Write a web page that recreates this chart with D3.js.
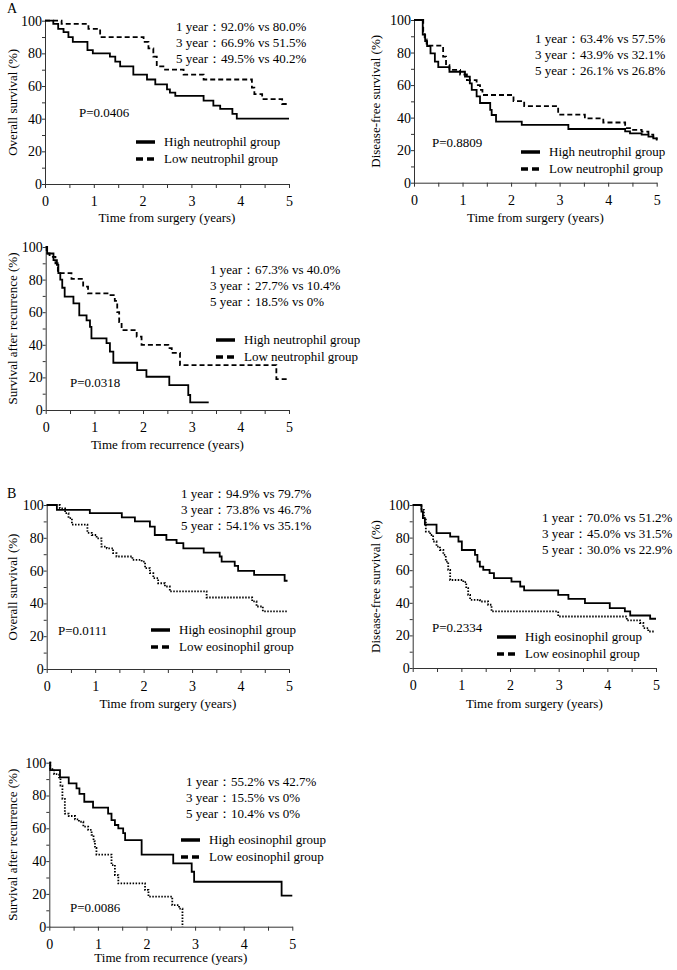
<!DOCTYPE html>
<html>
<head>
<meta charset="utf-8">
<script src="https://cdn.jsdelivr.net/npm/d3@7"></script>
<style>
body { margin: 0; background: #fff; }
text { font-family: "Liberation Serif", "Times New Roman", serif; }
</style>
</head>
<body>
<svg id="fig" width="677" height="970"></svg>
<script>
// survival curves, [years, percent]
var osNeutHigh = [[0,100],[0.17,98],[0.27,95],[0.38,93],[0.48,90],[0.57,87],[0.87,82],[0.98,80],[1.33,78],[1.44,75],[1.54,72],[1.81,67],[2.09,64],[2.26,61],[2.50,58],[2.56,56],[2.67,54],[3.25,51],[3.45,48],[3.59,46],[3.84,43],[3.93,40],[5.0,40]];
var osNeutLow = [[0,100],[0.34,98],[0.89,95],[1.13,90],[2.02,87],[2.12,83],[2.22,78],[2.29,72],[2.46,70],[2.84,67],[3.25,64],[4.24,59],[4.29,55],[4.45,52],[4.86,49],[5.0,49]];

var dfsNeutHigh = [[0,100],[0.18,91],[0.23,87],[0.27,84],[0.34,79.5],[0.43,74.4],[0.50,71],[0.73,68.2],[1.05,65.2],[1.15,61],[1.19,57],[1.29,53],[1.36,49],[1.57,44.7],[1.60,41.6],[1.69,37.5],[2.22,35.5],[3.18,33],[4.35,31.5],[4.45,30.3],[4.69,29.5],[4.83,28.3],[4.93,27.3],[5.0,26]];
var dfsNeutLow = [[0,100],[0.19,93],[0.22,88],[0.26,84.2],[0.60,77.5],[0.66,72.3],[0.73,69.3],[0.95,66.5],[1.09,63],[1.29,60],[1.36,57],[1.41,53.9],[2.05,50.2],[2.27,47.1],[2.97,41.8],[3.52,39.5],[3.90,37],[4.35,33.6],[4.45,32.5],[4.69,31.4],[4.83,29.5],[4.93,27.3],[5.0,26.5]];

var rasNeutHigh = [[0,100],[0.03,96],[0.16,92],[0.23,89],[0.26,84],[0.30,80],[0.34,75],[0.39,69.5],[0.57,65.4],[0.69,58],[0.84,55],[0.91,51],[0.94,44],[1.25,41],[1.32,35.8],[1.39,29],[1.88,24.5],[2.07,20.4],[2.54,15.3],[2.93,9.2],[2.97,4.7],[3.35,4.7]];
var rasNeutLow = [[0,100],[0.02,96],[0.08,94],[0.20,90],[0.25,84],[0.53,80.4],[0.77,75.7],[0.87,71.6],[1.29,70.5],[1.42,67],[1.47,60],[1.51,54],[1.56,49],[1.87,45],[1.97,40],[2.52,38],[2.59,35],[2.76,27.5],[4.74,19],[5.0,19]];

var osEosHigh = [[0,100],[0.21,97],[0.89,95],[1.55,92.5],[1.82,90],[2.13,86.8],[2.23,81.7],[2.47,78.7],[2.68,76.7],[2.82,73.6],[3.24,71],[3.57,68.6],[3.61,65.5],[3.88,62.9],[3.95,59.8],[4.28,57.4],[4.91,53.8],[4.97,53.8]];
var osEosLow = [[0,100],[0.27,98],[0.38,95],[0.45,92],[0.52,88],[0.84,83],[0.93,81.7],[1.03,79.7],[1.13,74.6],[1.24,73.6],[1.37,70.6],[1.44,68.6],[1.77,66.5],[1.96,65.5],[2.03,61.5],[2.13,58.4],[2.20,55.4],[2.30,52.3],[2.44,50.3],[2.54,47.3],[3.30,43.6],[4.24,41.2],[4.33,38.1],[4.46,35.1],[4.97,35.1]];

var dfsEosHigh = [[0,100],[0.18,96],[0.21,92],[0.25,88],[0.49,82.7],[0.77,80.6],[0.94,77.6],[1.01,72.4],[1.28,69.4],[1.33,65.3],[1.38,62.2],[1.45,60.2],[1.58,58.2],[1.67,55.1],[2.03,53],[2.21,50],[2.29,47.6],[2.99,44.9],[3.2,42.4],[3.54,39.8],[4.05,36.7],[4.36,34.7],[4.47,32.2],[4.88,30.2],[5.0,30.2]];
var dfsEosLow = [[0,100],[0.18,97],[0.23,92],[0.27,83.7],[0.36,81.6],[0.42,77.6],[0.49,74.5],[0.56,72.4],[0.63,69.4],[0.68,65.3],[0.73,60.2],[0.77,54],[1.04,52.7],[1.10,49],[1.14,44.9],[1.18,41.8],[1.38,40.8],[1.55,38.8],[1.62,34.7],[2.99,31.6],[4.40,29.2],[4.67,27.6],[4.74,24.5],[4.84,22.4],[4.97,22.4]];

var rasEosHigh = [[0,100],[0.02,95.5],[0.22,91],[0.40,87.4],[0.56,84.3],[0.62,81],[0.72,76.2],[0.90,72.6],[1.21,69],[1.28,65],[1.35,62],[1.42,60],[1.52,57],[1.56,52.8],[1.90,44],[2.55,38.6],[2.93,33.5],[2.98,27.4],[4.78,18.9],[5.0,18.9]];
var rasEosLow = [[0,100],[0.02,96],[0.10,93],[0.20,91],[0.23,86],[0.27,78],[0.32,69],[0.40,67.5],[0.53,65.5],[0.61,64],[0.70,61],[0.80,59],[0.87,56],[0.91,52],[0.94,48],[0.97,44],[1.28,37.6],[1.35,31.5],[1.42,26.4],[1.97,22.4],[2.04,18.3],[2.53,13.2],[2.67,11],[2.74,0]];

// texts
var yTitles = ["Overall survival (%)", "Disease-free survival (%)", "Survival after recurrence (%)"];
var xTitles = ["Time from surgery (years)", "Time from surgery (years)", "Time from recurrence (years)"];
var neutLegend = ["High neutrophil group", "Low neutrophil group"];
var eosLegend = ["High eosinophil group", "Low eosinophil group"];
var statsA1 = ["1 year\uff1a92.0% vs 80.0%", "3 year\uff1a66.9% vs 51.5%", "5 year\uff1a49.5% vs 40.2%"];
var statsA2 = ["1 year\uff1a63.4% vs 57.5%", "3 year\uff1a43.9% vs 32.1%", "5 year\uff1a26.1% vs 26.8%"];
var statsA3 = ["1 year\uff1a67.3% vs 40.0%", "3 year\uff1a27.7% vs 10.4%", "5 year\uff1a18.5% vs 0%"];
var statsB1 = ["1 year\uff1a94.9% vs 79.7%", "3 year\uff1a73.8% vs 46.7%", "5 year\uff1a54.1% vs 35.1%"];
var statsB2 = ["1 year\uff1a70.0% vs 51.2%", "3 year\uff1a45.0% vs 31.5%", "5 year\uff1a30.0% vs 22.9%"];
var statsB3 = ["1 year\uff1a55.2% vs 42.7%", "3 year\uff1a15.5% vs 0%", "5 year\uff1a10.4% vs 0%"];
var pValues = ["P=0.0406", "P=0.8809", "P=0.0318", "P=0.0111", "P=0.2334", "P=0.0086"];

var svg = d3.select("#fig");
var fs = 13;

var line = function(x, y) {
  return d3.line().x(function(d){ return x(d[0]); }).y(function(d){ return y(d[1]); }).curve(d3.curveStepAfter);
};

function drawPanel(p) {
  var g = svg.append("g");
  var x = d3.scaleLinear().domain([0,5]).range([p.x0, p.x1]);
  var y = d3.scaleLinear().domain([0,100]).range([p.y0, p.y1]);

  var xa = g.append("g").attr("transform","translate(0,"+p.y0+")")
    .call(d3.axisBottom(x).tickValues(d3.range(0,5.01,0.5)).tickSize(4).tickSizeOuter(0).tickPadding(8)
      .tickFormat(function(d){ return d % 1 === 0 ? d : ""; }));
  var ya = g.append("g").attr("transform","translate("+p.x0+",0)")
    .call(d3.axisLeft(y).tickValues(d3.range(0,101,10)).tickSize(3).tickSizeOuter(0).tickPadding(0)
      .tickFormat(function(d){ return d % 20 === 0 ? d : ""; }));
  [xa, ya].forEach(function(a){
    a.attr("font-size", 14).attr("font-family", null);
    a.selectAll("text").attr("fill","#000");
    a.selectAll("line,path").attr("stroke","#333").attr("stroke-width",1);
  });

  g.append("path").datum(p.high).attr("d", line(x,y))
    .attr("fill","none").attr("stroke","#000").attr("stroke-width",1.8);
  g.append("path").datum(p.low).attr("d", line(x,y))
    .attr("fill","none").attr("stroke","#000").attr("stroke-width",1.8)
    .attr("stroke-dasharray", p.dash);

  g.append("text").attr("transform","translate("+p.ytx+","+((p.y0+p.y1)/2)+") rotate(-90)")
    .attr("text-anchor","middle").attr("font-size",fs).text(p.yTitle);
  g.append("text").attr("x",(p.x0+p.x1)/2).attr("y",p.xty)
    .attr("text-anchor","middle").attr("font-size",fs).text(p.xTitle);

  g.selectAll(".stat").data(p.stats).enter().append("text")
    .attr("x",p.sx).attr("y",function(d,i){ return p.sy + i*16; })
    .attr("font-size",fs).text(function(d){ return d; });

  g.append("text").attr("x",p.px).attr("y",p.py).attr("font-size",fs).text(p.pval);

  p.legend.forEach(function(lab,i){
    var ly = p.ly + i*17;
    g.append("line").attr("x1",p.lx).attr("x2",p.lx+19).attr("y1",ly).attr("y2",ly)
      .attr("stroke","#000").attr("stroke-width",3.5)
      .attr("stroke-dasharray", i ? "7,4" : null);
    g.append("text").attr("x",p.lx+28).attr("y",ly+4).attr("font-size",fs).text(lab);
  });
}

var panels = [
  {x0:45, x1:289, y0:184, y1:20.7, high:osNeutHigh, low:osNeutLow, dash:"5,3",
   yTitle:yTitles[0], xTitle:xTitles[0], ytx:17, xty:222, stats:statsA1, sx:176, sy:31,
   pval:pValues[0], px:79, py:117, legend:neutLegend, lx:136, ly:142},
  {x0:414, x1:656.7, y0:182.7, y1:20, high:dfsNeutHigh, low:dfsNeutLow, dash:"5,3",
   yTitle:yTitles[1], xTitle:xTitles[1], ytx:380, xty:222, stats:statsA2, sx:535, sy:43,
   pval:pValues[1], px:432, py:147, legend:neutLegend, lx:521, ly:152},
  {x0:45.7, x1:289, y0:410, y1:247, high:rasNeutHigh, low:rasNeutLow, dash:"5,3",
   yTitle:yTitles[2], xTitle:xTitles[2], ytx:17, xty:449, stats:statsA3, sx:210, sy:274,
   pval:pValues[2], px:70, py:387, legend:neutLegend, lx:216, ly:340},
  {x0:46.7, x1:289, y0:669, y1:505, high:osEosHigh, low:osEosLow, dash:"1.5,1.5",
   yTitle:yTitles[0], xTitle:xTitles[0], ytx:17, xty:708, stats:statsB1, sx:181, sy:498,
   pval:pValues[3], px:58, py:635, legend:eosLegend, lx:151, ly:630},
  {x0:412.7, x1:656, y0:668, y1:505, high:dfsEosHigh, low:dfsEosLow, dash:"1.5,1.5",
   yTitle:yTitles[1], xTitle:xTitles[1], ytx:380, xty:708, stats:statsB2, sx:542, sy:521.7,
   pval:pValues[4], px:432, py:632, legend:eosLegend, lx:497, ly:637},
  {x0:49.3, x1:292.3, y0:926.7, y1:762.7, high:rasEosHigh, low:rasEosLow, dash:"1.5,1.5",
   yTitle:yTitles[2], xTitle:xTitles[2], ytx:17, xty:962, stats:statsB3, sx:186, sy:786,
   pval:pValues[5], px:70, py:912, legend:eosLegend, lx:181, ly:840}
];

panels.forEach(drawPanel);

svg.append("text").attr("x",7).attr("y",13).attr("font-size",14).text("A");
svg.append("text").attr("x",7).attr("y",498).attr("font-size",14).text("B");
</script>
</body>
</html>
